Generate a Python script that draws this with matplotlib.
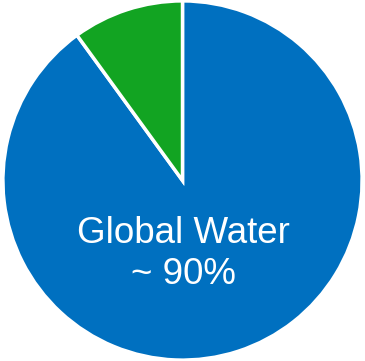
import matplotlib.pyplot as plt

labels = ['Global Water', 'Other']
shares = [90, 10]
colors = ['#0070C0', '#12A422']

plt.rcParams['font.family'] = ['Liberation Sans', 'DejaVu Sans']

fig = plt.figure(figsize=(3.65, 3.61), dpi=100)
ax = fig.add_axes([0.0, 0.0, 1.0, 1.0])
ax.pie(shares, colors=colors, startangle=90, counterclock=False,
       wedgeprops=dict(edgecolor='white', linewidth=2.5))
ax.set_xlim(-1.005, 1.005)
ax.set_ylim(-1.005, 1.005)
ax.set_aspect('equal')

ax.text(0.005, -0.41, 'Global Water\n~ 90%', color='white', fontsize=26.5,
        ha='center', va='center', linespacing=1.2)

fig.savefig('out.png', dpi=100)
